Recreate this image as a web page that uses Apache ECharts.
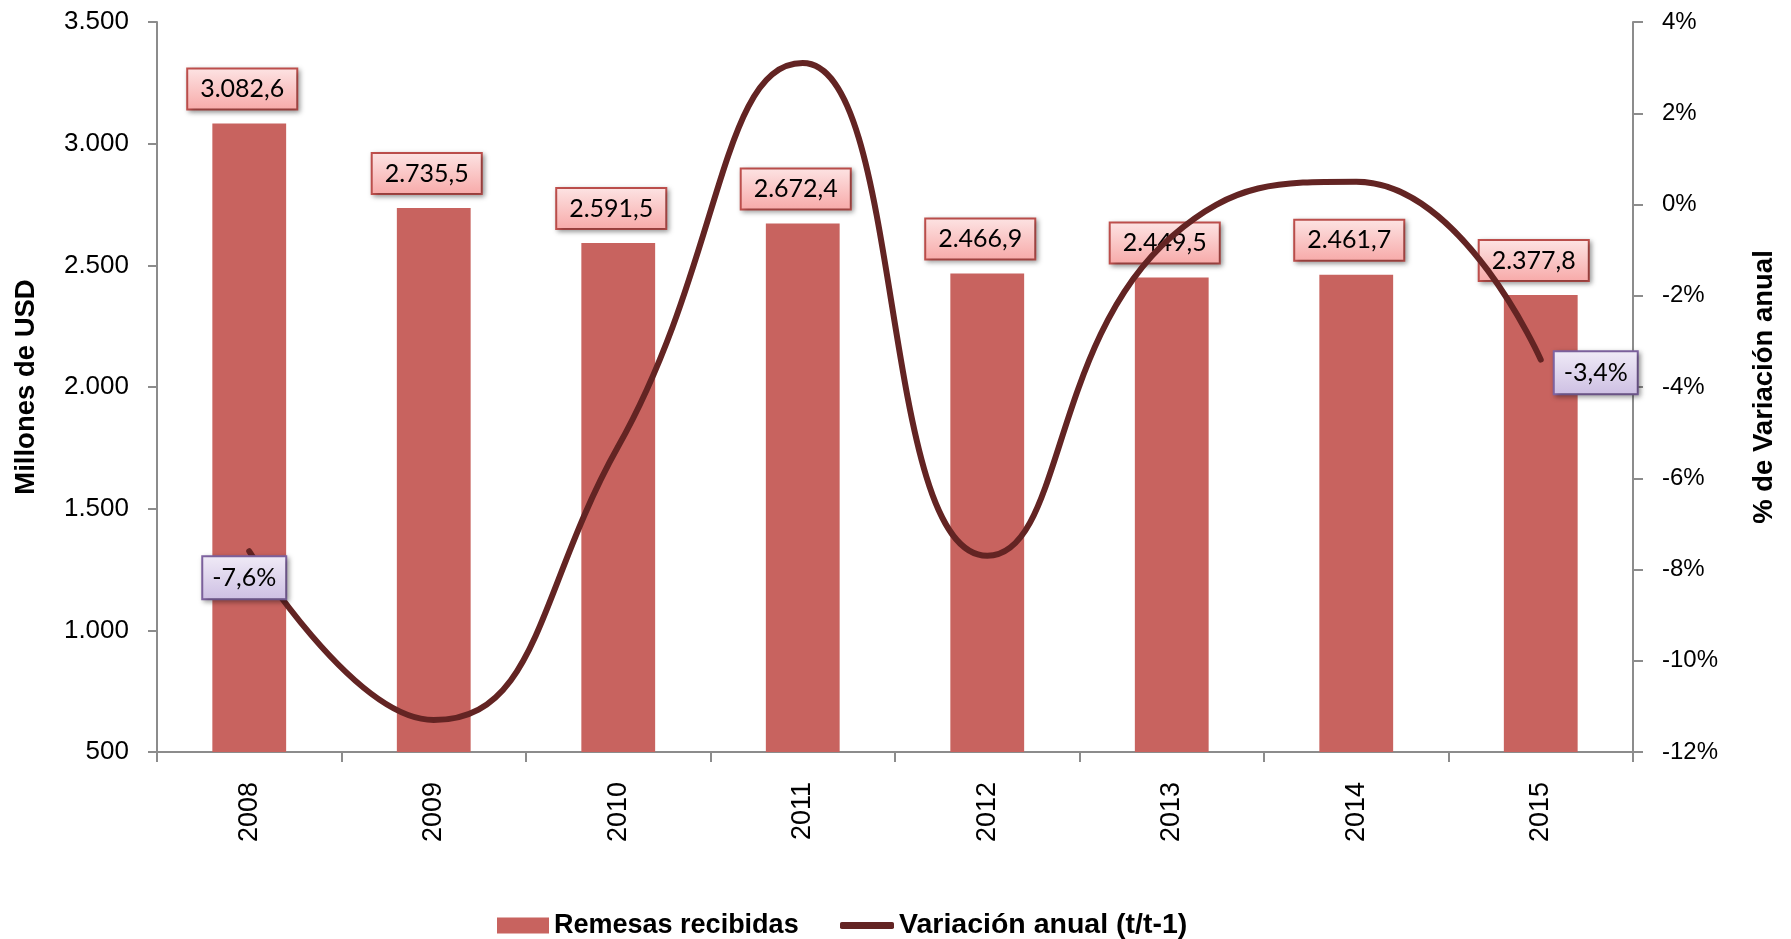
<!DOCTYPE html>
<html>
<head>
<meta charset="utf-8">
<script src="https://cdn.jsdelivr.net/npm/echarts@6/dist/echarts.min.js"></script>
<style>
    html, body { margin: 0; padding: 0; background: #fff; }
    #chart { width: 1791px; height: 939px; }
</style>
</head>
<body>
<div id="chart"></div>
<script>
// datos
var years = ['2008', '2009', '2010', '2011', '2012', '2013', '2014', '2015'];
var remesas = [3082.6, 2735.5, 2591.5, 2672.4, 2466.9, 2449.5, 2461.7, 2377.8];
var variacion = [-7.6, -11.3, -5.3, 3.1, -7.7, -0.7, 0.5, -3.4];

function miles(v) {
    return String(v).replace(/\B(?=(\d{3})+(?!\d))/g, '.');
}
function decimal(v) {
    var p = v.toFixed(1).split('.');
    return miles(p[0]) + ',' + p[1];
}

var redBox = {
    show: true,
    position: 'top',
    distance: 15,
    offset: [-7, 0],
    fontFamily: 'Lato',
    fontSize: 25,
    color: '#000',
    padding: [7, 12, 7, 12],
    borderColor: '#c0504d',
    borderWidth: 2,
    backgroundColor: new echarts.graphic.LinearGradient(0, 0, 0, 1, [
        {offset: 0, color: '#fde4e4'},
        {offset: 1, color: '#f7a9a8'}
    ]),
    shadowColor: 'rgba(0,0,0,0.35)',
    shadowBlur: 5,
    shadowOffsetX: 2,
    shadowOffsetY: 2,
    formatter: function (p) { return decimal(p.value); }
};

var purpleBox = {
    show: true,
    fontFamily: 'Lato',
    fontSize: 25,
    color: '#000',
    padding: [8, 9, 8, 9],
    borderColor: '#8064a2',
    borderWidth: 2,
    backgroundColor: new echarts.graphic.LinearGradient(0, 0, 0, 1, [
        {offset: 0, color: '#f0ebf7'},
        {offset: 1, color: '#cdbfe3'}
    ]),
    shadowColor: 'rgba(0,0,0,0.35)',
    shadowBlur: 5,
    shadowOffsetX: 2,
    shadowOffsetY: 2,
    formatter: function (p) { return decimal(p.value) + '%'; }
};

var lineData = variacion.map(function (v, i) {
    var item = {value: v};
    if (i === 0) {
        item.label = echarts.util.extend({position: 'bottom', distance: 5, offset: [-5, 0]}, purpleBox);
    } else if (i === variacion.length - 1) {
        item.label = echarts.util.extend({position: 'right', distance: 13, offset: [0, 13]}, purpleBox);
    }
    return item;
});

var legendText = {
    fontFamily: 'Liberation Sans',
    fontWeight: 'bold',
    fontSize: 27,
    color: '#000'
};
var titleText = {fontFamily: 'Liberation Sans', fontWeight: 'bold', fontSize: 27.5, color: '#000'};

var myChart = echarts.init(document.getElementById('chart'));
var option = {
    animation: false,
    grid: {left: 157, right: 158, top: 22, bottom: 187},
    legend: [
        {
            left: 492,
            top: 907,
            itemWidth: 52,
            itemHeight: 16,
            textStyle: legendText,
            data: [{name: 'Remesas recibidas', icon: 'rect'}]
        },
        {
            left: 835,
            top: 906,
            itemWidth: 54,
            itemHeight: 7,
            itemGap: 0,
            textStyle: {fontFamily: 'Liberation Sans', fontWeight: 'bold', fontSize: 28.5, color: '#000'},
            data: [{name: 'Variación anual (t/t-1)', icon: 'roundRect'}]
        }
    ],
    xAxis: {
        type: 'category',
        data: years,
        axisLine: {onZero: false, lineStyle: {color: '#8c8c8c', width: 2}},
        axisTick: {show: true, length: 10, lineStyle: {color: '#8c8c8c', width: 2}},
        axisLabel: {
            rotate: 90,
            margin: 30,
            fontFamily: 'Liberation Sans',
            fontSize: 27,
            color: '#000'
        }
    },
    yAxis: [
        {
            type: 'value',
            min: 500,
            max: 3500,
            interval: 500,
            name: 'Millones de USD',
            nameLocation: 'middle',
            nameRotate: 90,
            nameGap: 117,
            nameTextStyle: titleText,
            splitLine: {show: false},
            axisLine: {show: true, lineStyle: {color: '#8c8c8c', width: 2}},
            axisTick: {show: true, length: 9, lineStyle: {color: '#8c8c8c', width: 2}},
            axisLabel: {
                margin: 28,
                fontFamily: 'Liberation Sans',
                fontSize: 26,
                color: '#000',
                formatter: function (v) { return miles(v); }
            }
        },
        {
            type: 'value',
            min: -12,
            max: 4,
            interval: 2,
            position: 'right',
            name: '% de Variación anual',
            nameLocation: 'middle',
            nameRotate: 90,
            nameGap: 117,
            nameTextStyle: titleText,
            splitLine: {show: false},
            axisLine: {show: true, lineStyle: {color: '#8c8c8c', width: 2}},
            axisTick: {show: true, length: 10, lineStyle: {color: '#8c8c8c', width: 2}},
            axisLabel: {
                margin: 29,
                fontFamily: 'Liberation Sans',
                fontSize: 24,
                color: '#000',
                formatter: '{value}%'
            }
        }
    ],
    series: [
        {
            name: 'Remesas recibidas',
            type: 'bar',
            barWidth: '40%',
            itemStyle: {color: '#c8635f'},
            label: redBox,
            data: remesas
        },
        {
            name: 'Variación anual (t/t-1)',
            type: 'line',
            yAxisIndex: 1,
            smooth: 0.5,
            symbol: 'circle',
            symbolSize: 2,
            showSymbol: true,
            z: 5,
            lineStyle: {color: '#632423', width: 6, cap: 'round'},
            itemStyle: {color: '#632423'},
            data: lineData
        }
    ]
};
myChart.setOption(option);
</script>
</body>
</html>
